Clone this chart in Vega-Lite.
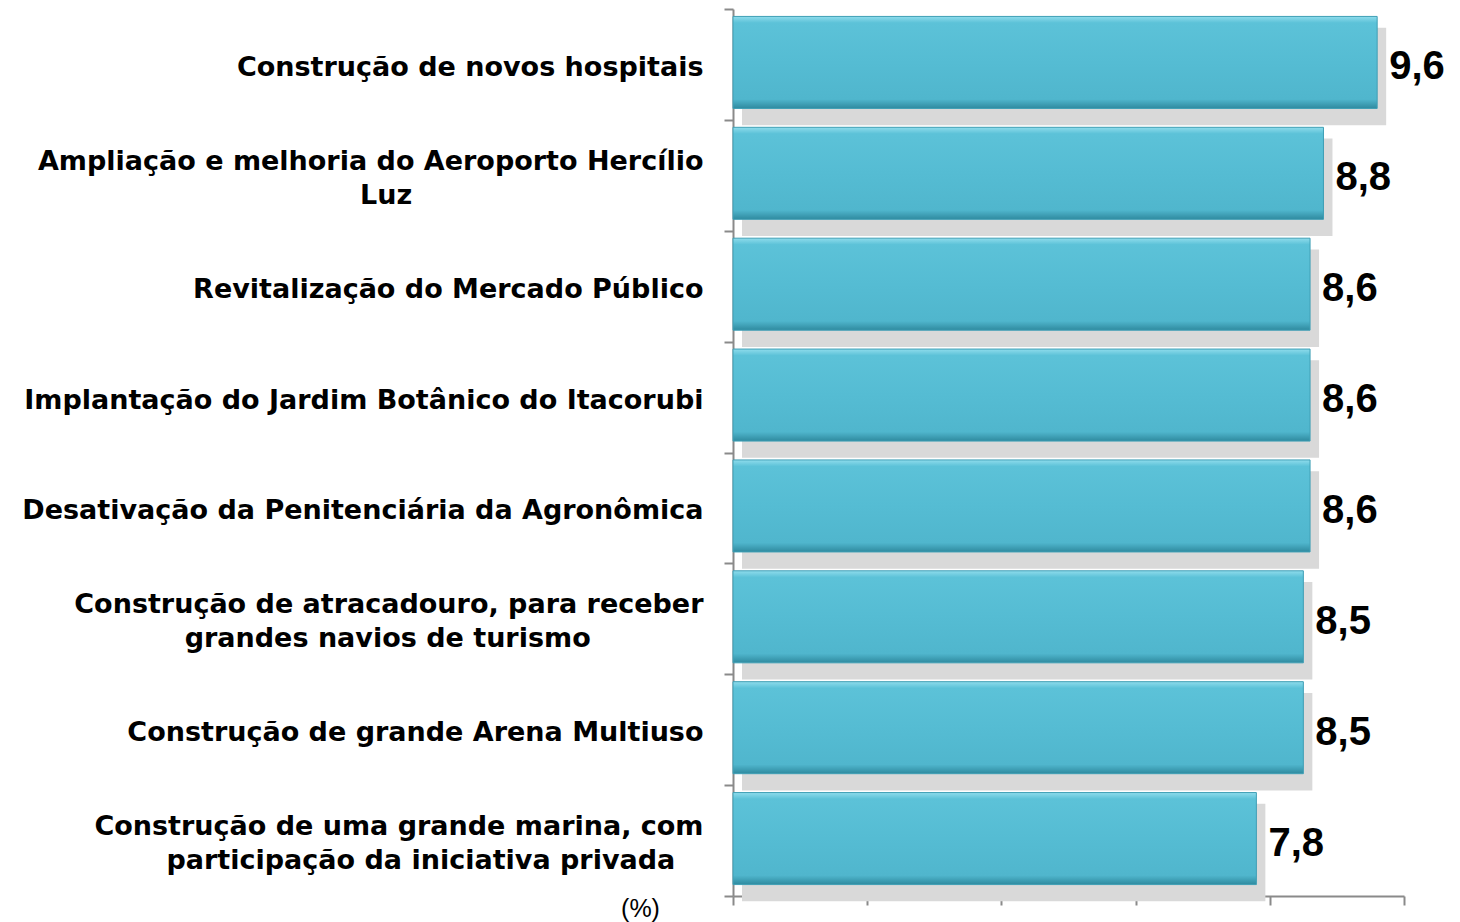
{
  "$schema": "https://vega.github.io/schema/vega-lite/v6.json",
  "autosize": {"type": "none"},
  "padding": {"left": 733, "top": 9, "right": 56, "bottom": 26},
  "width": 671,
  "height": 887,
  "background": "white",
  "config": {
    "view": {"stroke": null},
    "locale": {"number": {"decimal": ",", "thousands": ".", "grouping": [3], "currency": ["R$", ""]}}
  },
  "data": {
    "values": [
      {"projeto": "Construção de novos hospitais", "valor": 9.6},
      {"projeto": "Ampliação e melhoria do Aeroporto Hercílio|Luz", "valor": 8.8},
      {"projeto": "Revitalização do Mercado Público", "valor": 8.6},
      {"projeto": "Implantação do Jardim Botânico do Itacorubi", "valor": 8.6},
      {"projeto": "Desativação da Penitenciária da Agronômica", "valor": 8.6},
      {"projeto": "Construção de atracadouro, para receber|grandes navios de turismo", "valor": 8.5},
      {"projeto": "Construção de grande Arena Multiuso", "valor": 8.5},
      {"projeto": "Construção de uma grande marina, com|participação da iniciativa privada", "valor": 7.8}
    ]
  },
  "encoding": {
    "y": {
      "field": "projeto",
      "type": "nominal",
      "sort": null,
      "scale": {"paddingInner": 0, "paddingOuter": 0},
      "axis": {
        "title": null,
        "tickBand": "extent",
        "domainColor": "#8a8a8a",
        "domainWidth": 2,
        "tickColor": "#8a8a8a",
        "tickWidth": 2,
        "tickSize": 9,
        "labelPadding": 21,
        "labelOffset": -14,
        "labelLimit": 0,
        "labelFont": "DejaVu Sans",
        "labelFontWeight": "bold",
        "labelFontSize": 27,
        "labelColor": "#000000",
        "labelLineHeight": 17,
        "labelAlign": "right",
        "labelBaseline": "middle",
        "labelExpr": "length(split(datum.label,'|')) > 1 ? [split(datum.label,'|')[0], '\\u200b', split(datum.label,'|')[1] + pad('', round(1.437*((0.14*length(split(datum.label,'|')[0]) + 0.35*length(replace(split(datum.label,'|')[0], regexp('[iljí ,.]','g'), '')) + 0.2*length(replace(split(datum.label,'|')[0], regexp('[trf]','g'), ''))) - (0.14*length(split(datum.label,'|')[1]) + 0.35*length(replace(split(datum.label,'|')[1], regexp('[iljí ,.]','g'), '')) + 0.2*length(replace(split(datum.label,'|')[1], regexp('[trf]','g'), ''))))), '\\u00a0') + '\\u200b'] : ['\\u200b', datum.label]"
      }
    },
    "x": {
      "field": "valor",
      "type": "quantitative",
      "scale": {"domain": [0, 10], "nice": false},
      "axis": {
        "values": [0, 2, 4, 6, 8, 10],
        "labels": false,
        "grid": false,
        "domainColor": "#8a8a8a",
        "domainWidth": 2,
        "tickColor": "#8a8a8a",
        "tickWidth": 2,
        "tickSize": 9,
        "title": "(%)",
        "titleX": -93,
        "titleY": 12,
        "titleAlign": "center",
        "titleBaseline": "middle",
        "titleAngle": 0,
        "titleFont": "Liberation Sans, Arial",
        "titleFontWeight": "normal",
        "titleFontSize": 25,
        "titleColor": "#000000"
      }
    }
  },
  "layer": [
    {
      "mark": {"type": "bar", "height": {"band": 0.88}, "xOffset": 9, "yOffset": 12, "color": "#d9d9d9"}
    },
    {
      "mark": {
        "type": "bar",
        "height": {"band": 0.83},
        "yOffset": -2,
        "stroke": "#3f9fb5",
        "strokeWidth": 1,
        "color": {
          "gradient": "linear",
          "x1": 0, "y1": 0, "x2": 0, "y2": 1,
          "stops": [
            {"offset": 0, "color": "#8fdcec"},
            {"offset": 0.07, "color": "#5cc2d8"},
            {"offset": 0.5, "color": "#55bcd3"},
            {"offset": 0.9, "color": "#50b6cd"},
            {"offset": 1, "color": "#2f8a9f"}
          ]
        }
      }
    },
    {
      "mark": {"type": "text", "align": "left", "baseline": "middle", "dx": 12, "dy": 3, "font": "Liberation Sans, Arial", "fontWeight": "bold", "fontSize": 40, "color": "#000000"},
      "encoding": {"text": {"field": "valor", "type": "quantitative", "format": ".1f"}}
    }
  ]
}
